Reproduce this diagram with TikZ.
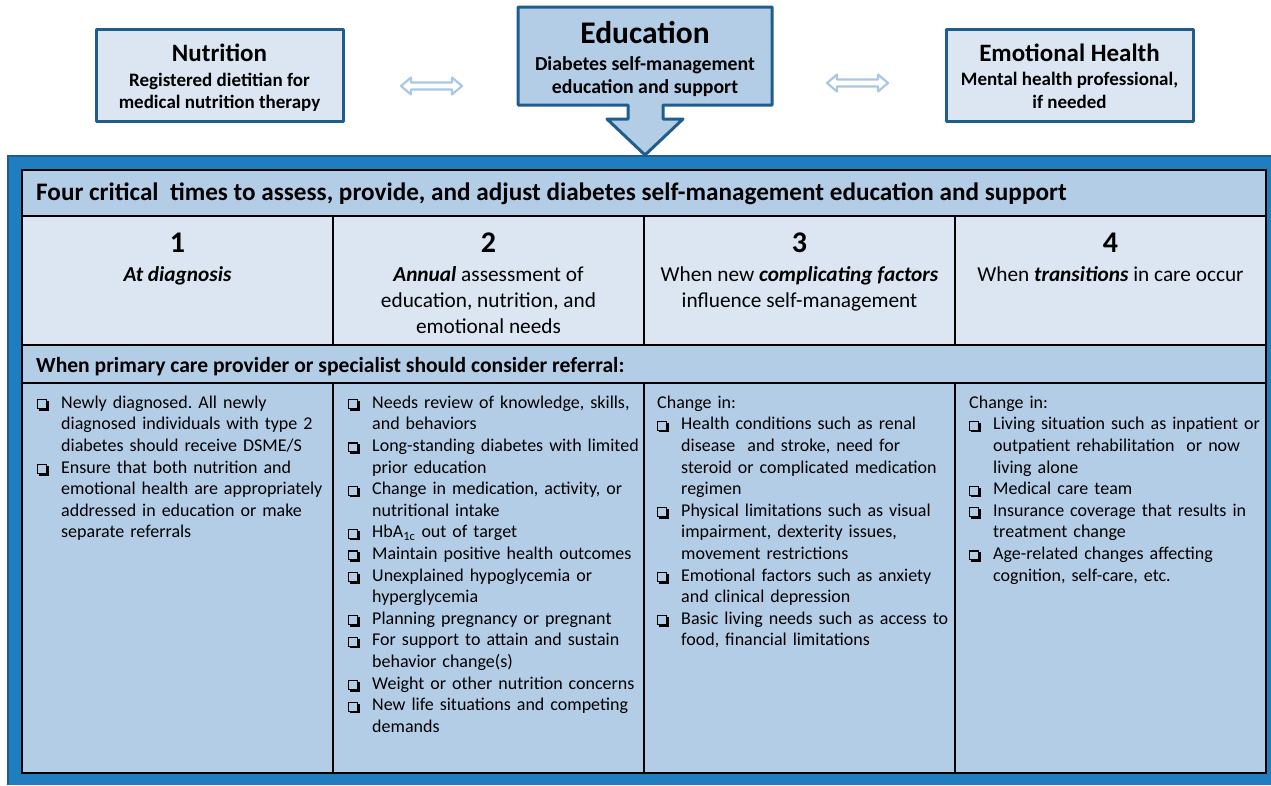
\documentclass[tikz,border=0pt]{standalone}
\usepackage{fontspec}
\setmainfont{Carlito}
\usetikzlibrary{calc}
\definecolor{framebl}{RGB}{32,126,192}
\definecolor{frameedge}{RGB}{26,94,146}
\definecolor{cellblue}{RGB}{180,205,231}
\definecolor{cellpale}{RGB}{219,230,242}
\definecolor{boxedge}{RGB}{31,93,140}
\definecolor{arrlight}{RGB}{170,200,230}
\newcommand\cbx{%
  \makebox[0pt][l]{\rule[-1pt]{1.1pt}{10pt}}%
  \makebox[0pt][l]{\hspace{8.9pt}\rule[-1pt]{1.1pt}{10pt}}%
  \makebox[0pt][l]{\rule[7.9pt]{10pt}{1.1pt}}%
  \makebox[0pt][l]{\rule[-1pt]{10pt}{1.1pt}}%
  \makebox[0pt][l]{\hspace{1.6pt}\rule[-2.6pt]{10pt}{1.6pt}}%
  \makebox[0pt][l]{\hspace{10pt}\rule[-2.6pt]{1.6pt}{9.6pt}}}
\newcommand\itm[1]{\hangindent=24pt\hangafter=1\noindent\makebox[24pt][l]{\cbx}\strut#1\par}
\newcommand\plainline[1]{\noindent\strut#1\par}
\tikzset{
  topbox/.style={draw=boxedge, line width=3pt, fill=cellpale, inner sep=0, line join=round},
  ttl/.style={anchor=base, inner sep=0, font=\fontsize{25}{30}\selectfont\bfseries},
  sub/.style={anchor=base, inner sep=0, font=\fontsize{19}{23}\selectfont\bfseries},
  num/.style={anchor=base, inner sep=0, font=\fontsize{30}{36}\selectfont\bfseries},
  hdr/.style={anchor=base, inner sep=0, font=\fontsize{21.3}{26}\selectfont},
  rowttl/.style={anchor=base west, inner sep=0, font=\fontsize{25.2}{30}\selectfont\bfseries},
  bodytxt/.style={anchor=north west, inner sep=0, text width=300pt, align=left, font=\fontsize{18}{21.6}\selectfont\frenchspacing},
  dblarr/.style={draw=arrlight, line width=2.2pt, fill=white, line join=round},
  grid/.style={draw=black, line width=1.2pt}
}
\begin{document}
\begin{tikzpicture}[x=1pt,y=-1pt]
\useasboundingbox (0,0) rectangle (1271,785);
% outer frame
\fill[framebl] (7,155) rectangle (1271,785);
\draw[frameedge, line width=2.5pt] (8.2,785) -- (8.2,156.2) -- (1271,156.2);
% table cells
\fill[cellblue] (22,170) rectangle (1266,216);
\fill[cellpale] (22,216) rectangle (1266,345);
\fill[cellblue] (22,345) rectangle (1266,383);
\fill[cellblue] (22,383) rectangle (1266,773);
\draw[grid] (22,216) -- (1266,216);
\draw[grid] (22,345) -- (1266,345);
\draw[grid] (22,383) -- (1266,383);
\foreach \xx in {333,644,955} {
  \draw[grid] (\xx,216) -- (\xx,345);
  \draw[grid] (\xx,383) -- (\xx,773);
}
\draw[draw=black, line width=1.8pt] (22,170) rectangle (1266,773);
% top boxes
\node[topbox, minimum width=247pt, minimum height=92pt] (nut) at (219.5,75) {};
\node[topbox, minimum width=247pt, minimum height=92pt] (emo) at (1069.5,75) {};
\draw[topbox, fill=cellblue] (518,7) -- (772,7) -- (772,105) -- (663,105) -- (663,119) -- (683,119)
  -- (645,155) -- (607,119) -- (628,119) -- (628,105) -- (518,105) -- cycle;
\coordinate (edu) at (645,56);
% double arrows
\coordinate (a1) at (431.5,86);
\coordinate (a2) at (857.5,83);
\foreach \c in {a1,a2} {
  \draw[dblarr] ($(\c)+(-30.5,0)$) -- ++(10,-8.5) -- ++(0,5) -- ++(41,0) -- ++(0,-5) -- ++(10,8.5)
    -- ++(-10,8.5) -- ++(0,-5) -- ++(-41,0) -- ++(0,5) -- cycle;
}
% top texts
\node[ttl] (nutT) at (219.5,61.7) {Nutrition};
\node[sub] (nutS1) at (219.5,86) {Registered dietitian for};
\node[sub] (nutS2) at (219.5,108.3) {medical nutrition therapy};
\node[anchor=base, inner sep=0, font=\fontsize{31.5}{36}\selectfont\bfseries] (eduT) at (645,43) {Education};
\node[sub, font=\fontsize{19.8}{24}\selectfont\bfseries] (eduS1) at (645,70) {Diabetes self-management};
\node[sub, font=\fontsize{19.8}{24}\selectfont\bfseries] (eduS2) at (645,93.5) {education and support};
\node[ttl] (emoT) at (1069.5,61.7) {Emotional Health};
\node[sub] (emoS1) at (1069.5,85.8) {Mental health professional,};
\node[sub] (emoS2) at (1069.5,108.3) {if needed};
% header rows
\node[rowttl] (h1) at (36,200) {Four critical\ \ times to assess, provide, and adjust diabetes self-management education and support};
\node[rowttl, font=\fontsize{21.6}{26}\selectfont\bfseries] (h2) at (36,372) {When primary care provider or specialist should consider referral:};
% row 2
\node[num] (n1) at (177.5,252.5) {1};
\node[num] (n2) at (488.5,252.5) {2};
\node[num] (n3) at (799.5,252.5) {3};
\node[num] (n4) at (1110.5,252.5) {4};
\node[hdr] (c1a) at (177.5,281.7) {\textbf{\textit{At diagnosis}}};
\node[hdr] (c2a) at (488.5,281.7) {\textbf{\textit{Annual}} assessment of};
\node[hdr] (c2b) at (488.5,307.7) {education, nutrition, and};
\node[hdr] (c2c) at (488.5,333.7) {emotional needs};
\node[hdr] (c3a) at (799.5,281.7) {When new \textbf{\textit{complicating factors}}};
\node[hdr] (c3b) at (799.5,307.7) {influence self-management};
\node[hdr] (c4a) at (1110.5,281.7) {When \textbf{\textit{transitions}} in care occur};
% row 4 bodies
\node[bodytxt] (b1) at (37,392.9) {%
\itm{Newly diagnosed. All newly\newline diagnosed individuals with type 2\newline diabetes should receive DSME/S}%
\itm{Ensure that both nutrition and\newline emotional health are appropriately\newline addressed in education or make\newline separate referrals}};
\node[bodytxt] (b2) at (348,392.9) {%
\itm{Needs review of knowledge, skills,\newline and behaviors}%
\itm{Long-standing diabetes with limited\newline prior education}%
\itm{Change in medication, activity, or\newline nutritional intake}%
\itm{HbA\textsubscript{1c} out of target}%
\itm{Maintain positive health outcomes}%
\itm{Unexplained hypoglycemia or\newline hyperglycemia}%
\itm{Planning pregnancy or pregnant}%
\itm{For support to attain and sustain\newline behavior change(s)}%
\itm{Weight or other nutrition concerns}%
\itm{New life situations and competing\newline demands}};
\node[bodytxt] (b3) at (657,392.9) {%
\plainline{Change in:}%
\itm{Health conditions such as renal\newline disease\ \ and stroke, need for\newline steroid or complicated medication\newline regimen}%
\itm{Physical limitations such as visual\newline impairment, dexterity issues,\newline movement restrictions}%
\itm{Emotional factors such as anxiety\newline and clinical depression}%
\itm{Basic living needs such as access to\newline food, financial limitations}};
\node[bodytxt] (b4) at (969,392.9) {%
\plainline{Change in:}%
\itm{Living situation such as inpatient or\newline outpatient rehabilitation\ \ or now\newline living alone}%
\itm{Medical care team}%
\itm{Insurance coverage that results in\newline treatment change}%
\itm{Age-related changes affecting\newline cognition, self-care, etc.}};
\end{tikzpicture}
\end{document}
